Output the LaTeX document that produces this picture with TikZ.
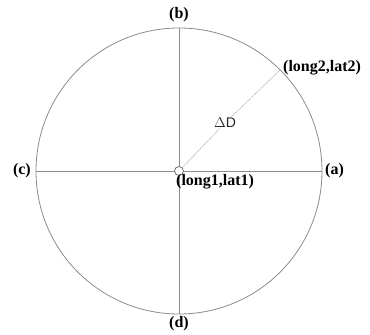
\documentclass[tikz,border=0pt]{standalone}
\usepackage{fontspec}
\setmainfont{Liberation Serif}
\newfontfamily\lsans{Liberation Sans}
\begin{document}
\begin{tikzpicture}[x=1pt,y=-1pt,
  axisline/.style={draw=black!45, line width=0.8pt},
  distline/.style={draw=black!30, line width=0.6pt, dash pattern=on 1.5pt off 0.6pt},
  lbl/.style={font=\fontsize{16}{18}\selectfont\bfseries, inner sep=0pt},
  dlbl/.style={font=\lsans\fontsize{14}{16}\selectfont, text=black!85, fill=white, inner sep=0.5pt}]
\useasboundingbox (0,0) rectangle (370,335);
\node[circle, axisline, minimum size=286pt, inner sep=0pt, outer sep=0pt] (C) at (179,171) {};
\draw[axisline] (C.west) -- (C.east);
\draw[axisline] (C.north) -- (C.south);
\node[circle, draw=black!55, line width=0.8pt, fill=white, minimum size=9pt, inner sep=0pt] (O) at (179,171) {};
\node[dlbl] (dD) at (225,123) {$\Delta$D};
\draw[distline] (O) -- (dD);
\draw[distline] (dD) -- (C.45);
\node[lbl, anchor=west] (a) at (325,171) {(a)};
\node[lbl, anchor=east] (c) at (31,171) {(c)};
\node[lbl] (b) at (179,15) {(b)};
\node[lbl] (d) at (179,324) {(d)};
\node[lbl, anchor=north west] (p1) at (176,174) {(long1,lat1)};
\node[lbl, anchor=west] (p2) at (283,68) {(long2,lat2)};
\end{tikzpicture}
\end{document}
